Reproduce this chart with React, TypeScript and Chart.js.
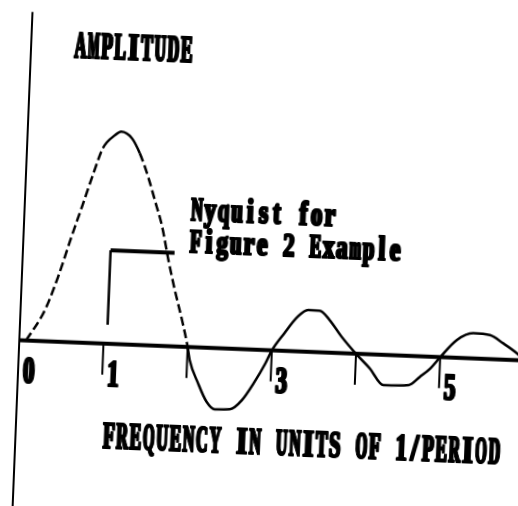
import React, { useEffect, useRef } from 'react';
import { Chart, registerables } from 'chart.js';

Chart.register(...registerables);

// ---- data (frequency in units of 1/period, relative amplitude) ----
const freq = [
  0.08, 0.29, 0.43, 0.57, 0.68, 0.8, 0.9, 1.04, 1.11, 1.24, 1.34, 1.45, 1.54, 1.64, 1.73, 1.82, 1.92, 2.0,
  2.03, 2.14, 2.25, 2.35, 2.53, 2.67, 2.8, 2.93, 3.0,
  3.14, 3.29, 3.41, 3.55, 3.67, 3.82, 4.0,
  4.17, 4.34, 4.64, 4.77, 4.89, 5.0,
  5.19, 5.38, 5.58, 5.74, 5.91, 6.0,
];
const amplitude = [
  0, 0.147, 0.306, 0.497, 0.64, 0.799, 0.919, 0.983, 1.0, 0.971, 0.902, 0.793, 0.685, 0.561, 0.406, 0.266, 0.126, 0,
  -0.061, -0.168, -0.254, -0.288, -0.285, -0.239, -0.158, -0.062, 0,
  0.083, 0.163, 0.197, 0.196, 0.154, 0.078, 0,
  -0.066, -0.142, -0.137, -0.096, -0.054, 0,
  0.084, 0.119, 0.113, 0.077, 0.032, 0,
];

// Nyquist step marker
const nyquistFreq = [1.04, 1.04, 1.8];
const nyquistAmp = [0.09, 0.44, 0.44];

// axis ticks and labels
const tickValues = [0, 1, 2, 3, 4, 5];
const tickLabels = ['0', '1', '', '3', '', '5'];
const yAxisTop = 1.546;

const yTitle = 'AMPLITUDE';
const xTitle = 'FREQUENCY IN UNITS OF 1/PERIOD';
const noteLines = ['Nyquist for', 'Figure 2 Example'];

const INK = '#000';
const ADVANCE = 13.3;
const CAP_RATIO = 0.66;

// monospaced, condensed "printer" text: each glyph centred in a fixed cell
function retroText(
  ctx: CanvasRenderingContext2D,
  text: string,
  px: number,
  py: number,
  cap: number,
  align: 'left' | 'center'
) {
  const size = cap / CAP_RATIO;
  ctx.save();
  ctx.font = `bold ${size}px "Liberation Serif", "DejaVu Serif", serif`;
  ctx.textAlign = 'center';
  ctx.textBaseline = 'alphabetic';
  ctx.fillStyle = INK;
  ctx.strokeStyle = INK;
  ctx.lineJoin = 'round';
  const total = text.length * ADVANCE;
  const start = align === 'center' ? px - total / 2 : px;
  for (let i = 0; i < text.length; i++) {
    const ch = text[i];
    if (ch === ' ') continue;
    const w = ctx.measureText(ch).width;
    const sx = Math.min(0.72, 11.6 / w);
    ctx.save();
    ctx.translate(start + (i + 0.5) * ADVANCE - 0.6, py);
    ctx.scale(sx, 1);
    ctx.lineWidth = 1.8;
    ctx.fillText(ch, 0, 0);
    ctx.fillText(ch, 1.2 / sx, 0);
    ctx.strokeText(ch, 0, 0);
    ctx.strokeText(ch, 1.2 / sx, 0);
    ctx.restore();
  }
  ctx.restore();
}

const retroPlugin = {
  id: 'retroAxes',
  beforeDatasetsDraw(chart: any) {
    const { ctx, scales } = chart;
    const x = scales.x;
    const y = scales.y;
    const x0 = x.getPixelForValue(0);
    const y0 = y.getPixelForValue(0);
    ctx.save();
    ctx.strokeStyle = INK;
    ctx.lineCap = 'butt';
    // vertical axis
    ctx.lineWidth = 2;
    ctx.beginPath();
    ctx.moveTo(x0, y.getPixelForValue(yAxisTop));
    ctx.lineTo(x0, chart.height);
    ctx.stroke();
    // horizontal axis
    ctx.lineWidth = 4;
    ctx.beginPath();
    ctx.moveTo(x0 - 1, y0);
    ctx.lineTo(chart.width, y0);
    ctx.stroke();
    // ticks
    ctx.lineWidth = 2;
    tickValues.forEach((v) => {
      const px = x.getPixelForValue(v);
      ctx.beginPath();
      ctx.moveTo(px, y0);
      ctx.lineTo(px, y0 + 31);
      ctx.stroke();
    });
    ctx.restore();
    // tick labels
    tickValues.forEach((v, i) => {
      if (!tickLabels[i]) return;
      retroText(ctx, tickLabels[i], x.getPixelForValue(v) + 10.7, y0 + 42.6, 25, 'center');
    });
    // titles
    retroText(ctx, yTitle, x.getPixelForValue(1.217), y.getPixelForValue(1.342), 25, 'center');
    retroText(ctx, xTitle, x.getPixelForValue(3.398), y.getPixelForValue(-0.49), 25, 'center');
    retroText(ctx, noteLines[0], x.getPixelForValue(1.968), y.getPixelForValue(0.595), 22, 'left');
    retroText(ctx, noteLines[1], x.getPixelForValue(1.968), y.getPixelForValue(0.448), 22, 'left');
  },
};

export default function App() {
  const ref = useRef<HTMLCanvasElement | null>(null);

  useEffect(() => {
    if (!ref.current) return;
    const curve = freq.map((f, i) => ({ x: f, y: amplitude[i] }));
    const step = nyquistFreq.map((f, i) => ({ x: f, y: nyquistAmp[i] }));
    const chart = new Chart(ref.current, {
      type: 'line',
      data: {
        datasets: [
          {
            data: curve,
            borderColor: INK,
            borderWidth: 2.5,
            pointRadius: 0,
            cubicInterpolationMode: 'monotone',
            fill: false,
            segment: {
              borderDash: (c: any) => {
                const a = c.p0.parsed.x;
                const b = c.p1.parsed.x;
                if (b <= 2.0001 && (b <= 0.91 || a >= 1.33)) return [9, 4];
                return [];
              },
            },
          },
          {
            data: step,
            borderColor: INK,
            borderWidth: 2.5,
            pointRadius: 0,
            tension: 0,
            fill: false,
            segment: {
              borderWidth: (c: any) => (c.p0.parsed.y === c.p1.parsed.y ? 4 : 2.5),
            },
          },
        ],
      },
      options: {
        responsive: false,
        animation: false,
        devicePixelRatio: 1,
        layout: { padding: { left: 43, right: 1.1, top: 8.55, bottom: 6.2 } },
        plugins: { legend: { display: false }, tooltip: { enabled: false }, title: { display: false } },
        scales: {
          x: { type: 'linear', min: 0, max: 6.1, display: false },
          y: { type: 'linear', min: -0.8, max: 1.7, display: false },
        },
      },
      plugins: [retroPlugin],
    } as any);
    return () => chart.destroy();
  }, []);

  return (
    <div
      style={{
        position: 'fixed',
        left: -20,
        top: -20,
        width: 558,
        height: 546,
        transform: 'rotate(2.3deg)',
        transformOrigin: '279px 273px',
        background: '#fff',
      }}
    >
      <canvas ref={ref} width={558} height={546} style={{ display: 'block' }} />
    </div>
  );
}
